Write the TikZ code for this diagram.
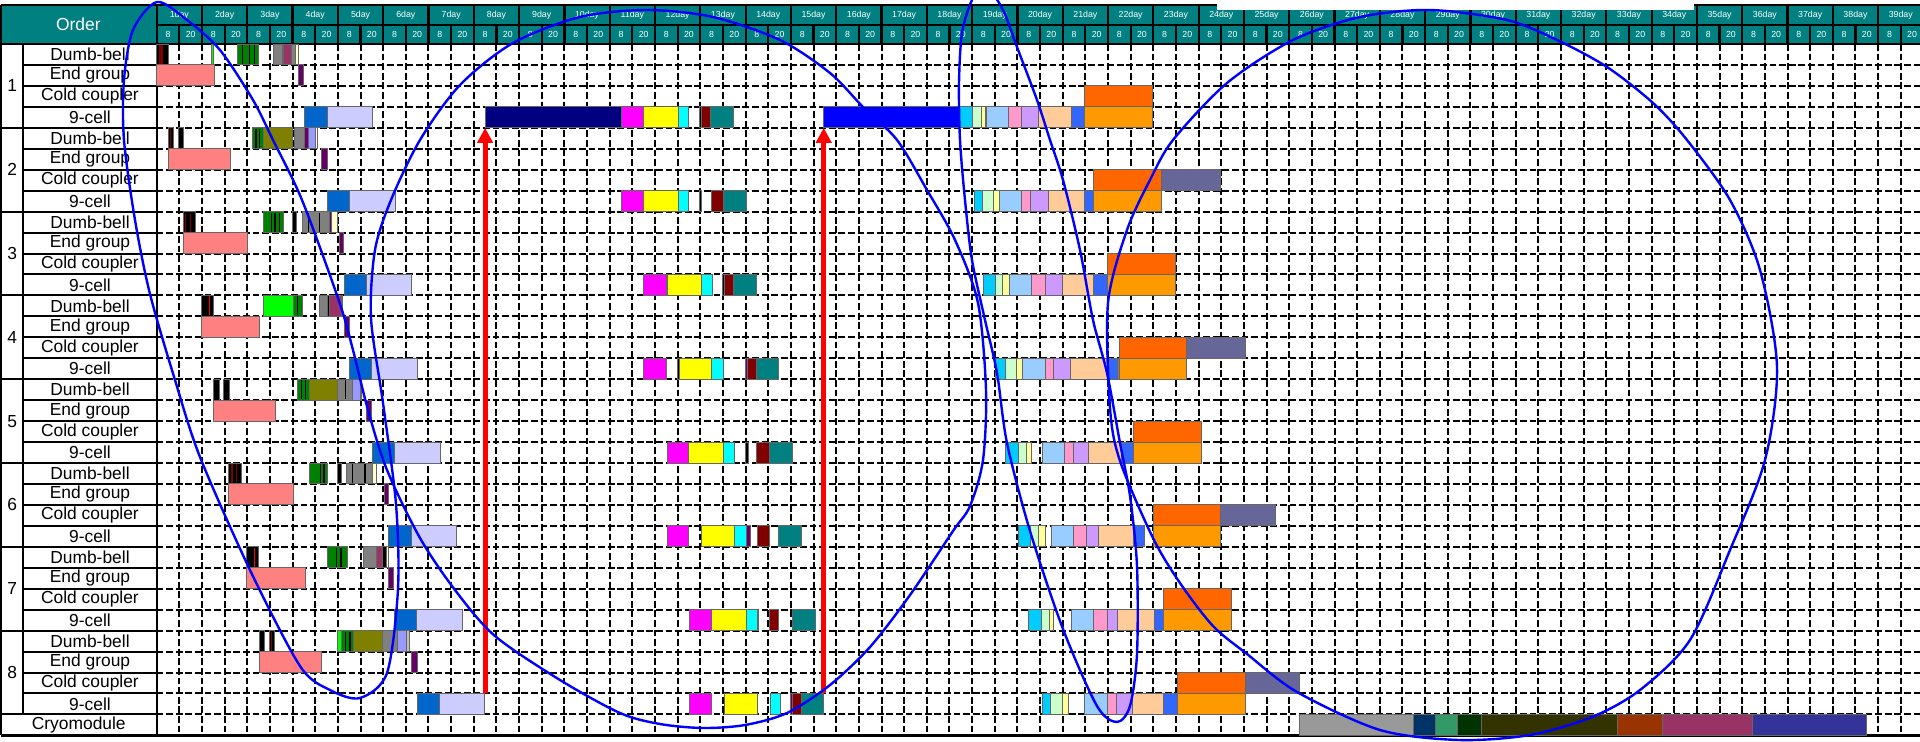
\documentclass[tikz,border=0pt]{standalone}
\usepackage{fontspec}
\setmainfont{Liberation Sans}
\usetikzlibrary{arrows.meta}
\definecolor{hdteal}{HTML}{008080}
\definecolor{dbred}{HTML}{800000}
\definecolor{dbgreen}{HTML}{008000}
\definecolor{dblime}{HTML}{00FF00}
\definecolor{dbolive}{HTML}{808000}
\definecolor{dbgray}{HTML}{808080}
\definecolor{dbplum}{HTML}{993366}
\definecolor{dbperi}{HTML}{9999FF}
\definecolor{dbcream}{HTML}{FFFFCC}
\definecolor{egpink}{HTML}{FF8080}
\definecolor{egplum}{HTML}{660066}
\definecolor{ncblue}{HTML}{0066CC}
\definecolor{nclav}{HTML}{CCCCFF}
\definecolor{ncnavy}{HTML}{000080}
\definecolor{ncmagenta}{HTML}{FF00FF}
\definecolor{ncyellow}{HTML}{FFFF00}
\definecolor{nccyan}{HTML}{00FFFF}
\definecolor{ncteal}{HTML}{008080}
\definecolor{ncpure}{HTML}{0000FF}
\definecolor{ncsky}{HTML}{00CCFF}
\definecolor{ncmint}{HTML}{CCFFCC}
\definecolor{nccream}{HTML}{FFFF99}
\definecolor{ncice}{HTML}{99CCFF}
\definecolor{ncrose}{HTML}{FF99CC}
\definecolor{nclilac}{HTML}{CC99FF}
\definecolor{ncpeach}{HTML}{FFCC99}
\definecolor{ncroyal}{HTML}{3366FF}
\definecolor{ncorange}{HTML}{FF9900}
\definecolor{ccorange}{HTML}{FF6600}
\definecolor{ccslate}{HTML}{666699}
\definecolor{cmgray}{HTML}{999999}
\definecolor{cmnavy}{HTML}{003366}
\definecolor{cmsea}{HTML}{339966}
\definecolor{cmforest}{HTML}{003300}
\definecolor{cmolive}{HTML}{333300}
\definecolor{cmrust}{HTML}{993300}
\definecolor{cmplum}{HTML}{993366}
\definecolor{cmindigo}{HTML}{333399}
\definecolor{linkred}{HTML}{FF0000}
\definecolor{ringblue}{HTML}{0000FF}

% one bar: row, start, end, colour (x in half days, y in rows)
\newcommand{\gtask}[4]{\draw[task, fill=#4] (#2,#1) rectangle (#3,#1+1);}
% thin line inside a bar, no outline
\newcommand{\gstripe}[4]{\fill[#4] (#2,#1+0.05) rectangle (#3,#1+0.95);}

\begin{document}
\begin{tikzpicture}[
  x=11.325pt, y=-10.475pt,
  headline/.style={draw=black, line width=1.1pt},
  headtext/.style={text=white, inner sep=0pt, font=\fontsize{4.4pt}{5pt}\selectfont},
  rowtext/.style={inner sep=0pt, font=\fontsize{8.7pt}{10pt}\selectfont},
  rule/.style={draw=black, line width=1pt},
  gridline/.style={draw=black, line width=1pt, dash pattern=on 3.4pt off 1.4pt},
  task/.style={draw=black!60, line width=0.5pt},
  link/.style={draw=linkred, line width=2.6pt, -{Triangle[length=7.5pt, width=7.5pt]}},
  ring/.style={draw=ringblue, line width=1.2pt},
]
  \useasboundingbox (-6.918,-2.1) rectangle (77.85,33.317);
  \clip (-6.918,-2.1) rectangle (77.85,33.317);
  \fill[white] (-6.918,-2.1) rectangle (77.85,33.317);

  % Header ------------------------------------------------------------------
  \fill[hdteal] (-6.874,-1.862) rectangle (78,0);
  \node[text=white, font=\fontsize{8.7pt}{10pt}\selectfont] (order) at (-3.46,-0.93) {Order};
  \foreach \k in {1,...,39} {
    \node[headtext] (day\k) at ({2*\k-1},-1.384) {\k day};
    \node[headtext] (am\k) at ({2*\k-1.5},-0.453) {8};
    \node[headtext] (pm\k) at ({2*\k-0.5},-0.453) {20};
  }
  \draw[headline] (-6.874,-1.862) -- (78,-1.862);
  \draw[headline] (0,-0.907) -- (78,-0.907);
  \draw[headline] (-6.874,0) -- (78,0);
  \foreach \k in {2,4,...,78} \draw[headline] (\k,-1.862) -- (\k,0);
  \foreach \k in {1,3,...,77} \draw[headline] (\k,-0.907) -- (\k,0);
  \fill[white] (46.81,-2.2) rectangle (67.87,-1.623);

  % Grid --------------------------------------------------------------------
  \foreach \r in {1,...,32} \draw[gridline] (0,\r) -- (78,\r);
  \foreach \k in {1,...,77} \draw[gridline] (\k,0) -- (\k,33);
  \draw[rule] (0,-1.862) -- (0,33);
  \draw[rule] (-6.874,-1.862) -- (-6.874,33);
  \draw[rule] (-5.89,0) -- (-5.89,32);
  \foreach \r in {1,...,31} \draw[rule] (-5.89,\r) -- (0,\r);
  \foreach \r in {4,8,...,32} \draw[rule] (-6.874,\r) -- (0,\r);
  \draw[draw=black, line width=1.6pt] (-6.874,33) -- (78,33);

  % Row labels --------------------------------------------------------------
  \foreach \g in {1,...,8} {
    \node[rowtext] (grp\g) at (-6.38,{4*\g-2}) {\g};
    \node[rowtext] (db\g) at (-2.945,{4*\g-3.5}) {Dumb-bell};
    \node[rowtext] (eg\g) at (-2.945,{4*\g-2.5}) {End group};
    \node[rowtext] (cc\g) at (-2.945,{4*\g-1.5}) {Cold coupler};
    \node[rowtext] (nc\g) at (-2.945,{4*\g-0.5}) {9-cell};
  }
  \node[rowtext] (cryo) at (-3.44,32.5) {Cryomodule};

  % Order 1 -----------------------------------------------------------------
  \gtask{0}{0}{0.51}{black} \gstripe{0}{0.12}{0.3}{dbred}
  \gtask{0}{2.40}{2.53}{dblime}
  \gtask{0}{3.56}{4.49}{dbgreen} \gstripe{0}{3.75}{3.82}{black} \gstripe{0}{4.08}{4.14}{black} \gstripe{0}{4.3}{4.36}{black}
  \gtask{0}{5.15}{5.55}{dbgray} \gtask{0}{5.55}{5.62}{black} \gtask{0}{5.62}{5.95}{dbplum}
  \gtask{0}{5.95}{6.15}{dbgray} \gtask{0}{6.15}{6.25}{dbcream}
  \gtask{1}{0}{2.57}{egpink} \gtask{1}{6.28}{6.5}{egplum}
  \gtask{2}{40.96}{43.97}{ccorange}
  \gtask{3}{6.51}{7.53}{ncblue} \gtask{3}{7.53}{9.53}{nclav}
  \gtask{3}{14.5}{20.51}{ncnavy} \gtask{3}{20.51}{21.49}{ncmagenta} \gtask{3}{21.49}{23.05}{ncyellow}
  \gtask{3}{23.05}{23.49}{nccyan} \gtask{3}{23.96}{24.05}{black} \gtask{3}{24.07}{24.47}{dbred}
  \gtask{3}{24.47}{25.45}{ncteal}
  \gtask{3}{29.45}{35.44}{ncpure} \gtask{3}{35.44}{36.03}{ncsky} \gtask{3}{36.03}{36.4}{ncmint}
  \gtask{3}{36.4}{36.6}{nccream} \gtask{3}{36.62}{37.6}{ncice} \gtask{3}{37.6}{38.19}{ncrose}
  \gtask{3}{38.19}{38.94}{nclilac} \gtask{3}{38.94}{40.37}{ncpeach} \gtask{3}{40.37}{40.96}{ncroyal}
  \gtask{3}{40.96}{43.97}{ncorange}

  % Order 2 -----------------------------------------------------------------
  \gtask{4}{0.51}{0.74}{black} \gstripe{4}{0.58}{0.64}{dbred} \gtask{4}{0.96}{1.18}{black}
  \gtask{4}{4.22}{4.71}{dbgreen} \gstripe{4}{4.35}{4.41}{black} \gstripe{4}{4.52}{4.58}{black}
  \gtask{4}{4.71}{6.0}{dbolive} \gtask{4}{6.1}{6.54}{dbgray} \gtask{4}{6.54}{6.69}{egplum}
  \gtask{4}{6.69}{7.03}{dbperi} \gtask{4}{7.03}{7.1}{dbcream}
  \gtask{5}{0.54}{3.28}{egpink} \gtask{5}{7.28}{7.53}{egplum}
  \gtask{6}{41.35}{44.37}{ccorange} \gtask{6}{44.37}{46.96}{ccslate}
  \gtask{7}{7.54}{8.5}{ncblue} \gtask{7}{8.5}{10.53}{nclav}
  \gtask{7}{20.51}{21.51}{ncmagenta} \gtask{7}{21.51}{23.05}{ncyellow} \gtask{7}{23.05}{23.49}{nccyan}
  \gtask{7}{23.96}{24.04}{black} \gtask{7}{24.48}{25.04}{dbred} \gtask{7}{25.04}{26.05}{ncteal}
  \gtask{7}{36.09}{36.44}{ncsky} \gtask{7}{36.44}{36.95}{ncmint} \gtask{7}{36.95}{37.2}{nccream}
  \gtask{7}{37.2}{38.19}{ncice} \gtask{7}{38.19}{38.6}{ncrose} \gtask{7}{38.6}{39.37}{nclilac}
  \gtask{7}{39.37}{40.96}{ncpeach} \gtask{7}{40.96}{41.35}{ncroyal} \gtask{7}{41.35}{44.37}{ncorange}

  % Order 3 -----------------------------------------------------------------
  \gtask{8}{1.17}{1.73}{black} \gstripe{8}{1.25}{1.3}{dbred} \gstripe{8}{1.45}{1.52}{dbred}
  \gtask{8}{4.7}{5.58}{dbgreen} \gstripe{8}{5.05}{5.1}{black} \gstripe{8}{5.2}{5.26}{black} \gstripe{8}{5.38}{5.44}{black}
  \gtask{8}{5.99}{6.17}{black}
  \gtask{8}{6.43}{7.61}{dbgray} \gstripe{8}{6.68}{6.73}{black} \gstripe{8}{7.18}{7.23}{black}
  \gtask{8}{7.61}{7.71}{egplum} \gtask{8}{7.71}{8.0}{dbcream}
  \gtask{9}{1.17}{4.01}{egpink} \gtask{9}{8.05}{8.25}{egplum}
  \gtask{10}{41.98}{44.97}{ccorange}
  \gtask{11}{8.27}{9.25}{ncblue} \gtask{11}{9.25}{11.26}{nclav}
  \gtask{11}{21.51}{22.5}{ncmagenta} \gtask{11}{22.53}{24.04}{ncyellow} \gtask{11}{24.04}{24.56}{nccyan}
  \gtask{11}{24.97}{25.07}{black} \gtask{11}{25.07}{25.47}{dbred} \gtask{11}{25.47}{26.47}{ncteal}
  \gtask{11}{36.49}{37.04}{ncsky} \gtask{11}{37.04}{37.36}{ncmint} \gtask{11}{37.36}{37.63}{nccream}
  \gtask{11}{37.63}{38.62}{ncice} \gtask{11}{38.62}{39.24}{ncrose} \gtask{11}{39.24}{39.97}{nclilac}
  \gtask{11}{39.97}{41.37}{ncpeach} \gtask{11}{41.37}{41.98}{ncroyal} \gtask{11}{41.98}{44.97}{ncorange}

  % Order 4 -----------------------------------------------------------------
  \gtask{12}{1.98}{2.5}{black} \gstripe{12}{2.3}{2.36}{linkred}
  \gtask{12}{4.73}{6.05}{dblime} \gtask{12}{6.05}{6.43}{dbgreen} \gstripe{12}{6.2}{6.26}{black}
  \gtask{12}{7.17}{7.55}{dbgray} \gtask{12}{7.55}{7.62}{black} \gtask{12}{7.62}{8.15}{dbplum}
  \gtask{12}{8.15}{8.22}{dbcream}
  \gtask{13}{1.98}{4.55}{egpink} \gtask{13}{8.3}{8.52}{egplum}
  \gtask{14}{42.49}{45.46}{ccorange} \gtask{14}{45.46}{48.06}{ccslate}
  \gtask{15}{8.52}{9.5}{ncblue} \gtask{15}{9.5}{11.5}{nclav}
  \gtask{15}{21.51}{22.5}{ncmagenta} \gtask{15}{23.0}{23.06}{black} \gtask{15}{23.06}{24.51}{ncyellow}
  \gtask{15}{24.51}{25.04}{nccyan} \gtask{15}{26.0}{26.07}{egplum} \gtask{15}{26.07}{26.47}{dbred}
  \gtask{15}{26.47}{27.47}{ncteal}
  \gtask{15}{37.04}{37.49}{ncsky} \gtask{15}{37.49}{37.98}{ncmint} \gtask{15}{37.98}{38.22}{nccream}
  \gtask{15}{38.22}{39.24}{ncice} \gtask{15}{39.24}{39.6}{ncrose} \gtask{15}{39.6}{40.35}{nclilac}
  \gtask{15}{40.35}{41.97}{ncpeach} \gtask{15}{41.97}{42.4}{ncroyal} \gtask{15}{42.4}{42.49}{dbgray}
  \gtask{15}{42.49}{45.46}{ncorange}

  % Order 5 -----------------------------------------------------------------
  \gtask{16}{2.5}{2.76}{black} \gtask{16}{2.97}{3.2}{black}
  \gtask{16}{6.2}{6.73}{dbgreen} \gstripe{16}{6.35}{6.41}{black} \gstripe{16}{6.55}{6.6}{black}
  \gtask{16}{6.73}{7.97}{dbolive} \gtask{16}{7.97}{8.66}{dbgray} \gstripe{16}{8.3}{8.35}{black}
  \gtask{16}{8.66}{8.99}{dbperi} \gtask{16}{8.99}{9.06}{dbcream}
  \gtask{17}{2.53}{5.26}{egpink} \gtask{17}{9.25}{9.47}{egplum}
  \gtask{18}{43.13}{46.12}{ccorange}
  \gtask{19}{9.52}{10.5}{ncblue} \gtask{19}{10.5}{12.51}{nclav}
  \gtask{19}{22.53}{23.5}{ncmagenta} \gtask{19}{23.5}{25.04}{ncyellow} \gtask{19}{25.04}{25.51}{nccyan}
  \gtask{19}{26.0}{26.12}{black} \gtask{19}{26.47}{27.06}{dbred} \gtask{19}{27.06}{28.06}{ncteal}
  \gtask{19}{37.49}{38.07}{ncsky} \gtask{19}{38.07}{38.4}{ncmint} \gtask{19}{38.4}{38.62}{nccream}
  \gtask{19}{39.1}{40.06}{ncice} \gtask{19}{40.06}{40.49}{ncrose} \gtask{19}{40.49}{41.12}{nclilac}
  \gtask{19}{41.12}{42.6}{ncpeach} \gtask{19}{42.6}{43.13}{ncroyal} \gtask{19}{43.13}{46.12}{ncorange}

  % Order 6 -----------------------------------------------------------------
  \gtask{20}{3.16}{3.74}{black} \gstripe{20}{3.3}{3.36}{dbred} \gstripe{20}{3.5}{3.56}{dbred}
  \gtask{20}{6.73}{7.56}{dbgreen} \gstripe{20}{7.2}{7.26}{black} \gstripe{20}{7.35}{7.41}{black}
  \gtask{20}{7.97}{8.18}{black}
  \gtask{20}{8.4}{9.52}{dbgray} \gstripe{20}{8.63}{8.68}{black} \gstripe{20}{9.17}{9.22}{black}
  \gtask{20}{9.52}{9.7}{dbcream}
  \gtask{21}{3.16}{6.02}{egpink} \gtask{21}{10.06}{10.25}{egplum}
  \gtask{22}{43.99}{46.96}{ccorange} \gtask{22}{46.96}{49.38}{ccslate}
  \gtask{23}{10.25}{11.26}{ncblue} \gtask{23}{11.26}{13.25}{nclav}
  \gtask{23}{22.53}{23.5}{ncmagenta} \gtask{23}{24.07}{25.51}{ncyellow} \gtask{23}{25.51}{26.03}{nccyan}
  \gtask{23}{26.03}{26.2}{egplum} \gtask{23}{26.51}{27.06}{dbred} \gtask{23}{27.47}{28.46}{ncteal}
  \gtask{23}{38.07}{38.59}{ncsky} \gtask{23}{38.59}{38.95}{ncmint} \gtask{23}{38.95}{39.24}{nccream}
  \gtask{23}{39.5}{40.49}{ncice} \gtask{23}{40.49}{41.07}{ncrose} \gtask{23}{41.07}{41.59}{nclilac}
  \gtask{23}{41.59}{43.13}{ncpeach} \gtask{23}{43.13}{43.59}{ncroyal} \gtask{23}{43.99}{46.96}{ncorange}

  % Order 7 -----------------------------------------------------------------
  \gtask{24}{3.96}{4.48}{black} \gstripe{24}{4.3}{4.36}{linkred}
  \gtask{24}{7.56}{8.44}{dbgreen} \gstripe{24}{7.9}{7.96}{black} \gstripe{24}{8.1}{8.16}{black}
  \gtask{24}{9.15}{9.7}{dbgray} \gtask{24}{9.7}{9.98}{dbplum} \gtask{24}{9.98}{10.15}{black}
  \gtask{24}{10.15}{10.25}{dbcream}
  \gtask{25}{3.96}{6.56}{egpink} \gtask{25}{10.25}{10.46}{egplum}
  \gtask{26}{44.47}{47.47}{ccorange}
  \gtask{27}{10.5}{11.48}{ncblue} \gtask{27}{11.48}{13.51}{nclav}
  \gtask{27}{23.53}{24.51}{ncmagenta} \gtask{27}{24.51}{26.06}{ncyellow} \gtask{27}{26.06}{26.51}{nccyan}
  \gtask{27}{26.51}{26.58}{black} \gtask{27}{27.06}{27.47}{dbred} \gtask{27}{28.06}{29.07}{ncteal}
  \gtask{27}{38.47}{39.06}{ncsky} \gtask{27}{39.06}{39.4}{ncmint} \gtask{27}{39.4}{39.6}{nccream}
  \gtask{27}{40.38}{41.38}{ncice} \gtask{27}{41.38}{41.96}{ncrose} \gtask{27}{41.96}{42.44}{nclilac}
  \gtask{27}{42.44}{44.06}{ncpeach} \gtask{27}{44.06}{44.47}{ncroyal} \gtask{27}{44.47}{47.47}{ncorange}

  % Order 8 -----------------------------------------------------------------
  \gtask{28}{4.52}{4.74}{black} \gtask{28}{4.96}{5.21}{black} \gstripe{28}{5.05}{5.1}{dbred}
  \gtask{28}{7.97}{8.15}{dblime} \gtask{28}{8.15}{8.69}{dbgreen} \gstripe{28}{8.3}{8.36}{black} \gstripe{28}{8.5}{8.56}{black}
  \gtask{28}{8.69}{9.96}{dbolive} \gtask{28}{9.96}{10.65}{dbgray} \gtask{28}{10.65}{11.01}{dbperi}
  \gtask{28}{11.01}{11.15}{dbgray!50}
  \gtask{29}{4.52}{7.27}{egpink} \gtask{29}{11.26}{11.5}{egplum}
  \gtask{30}{45.09}{48.06}{ccorange} \gtask{30}{48.06}{50.44}{ccslate}
  \gtask{31}{11.5}{12.48}{ncblue} \gtask{31}{12.48}{14.46}{nclav}
  \gtask{31}{23.53}{24.51}{ncmagenta} \gtask{31}{25.07}{26.51}{ncyellow} \gtask{31}{27.09}{27.53}{nccyan}
  \gtask{31}{28.0}{28.06}{egplum} \gtask{31}{28.06}{28.46}{dbred} \gtask{31}{28.46}{29.46}{ncteal}
  \gtask{31}{39.1}{39.47}{ncsky} \gtask{31}{39.47}{40.0}{ncmint} \gtask{31}{40.0}{40.24}{nccream}
  \gtask{31}{40.97}{41.97}{ncice} \gtask{31}{41.97}{42.37}{ncrose} \gtask{31}{42.37}{43.07}{nclilac}
  \gtask{31}{43.07}{44.47}{ncpeach} \gtask{31}{44.47}{45.09}{ncroyal} \gtask{31}{45.09}{48.06}{ncorange}

  % Cryomodule --------------------------------------------------------------
  \gtask{32}{50.44}{55.47}{cmgray} \gtask{32}{55.47}{56.45}{cmnavy} \gtask{32}{56.45}{57.45}{cmsea}
  \gtask{32}{57.45}{58.47}{cmforest} \gtask{32}{58.47}{64.48}{cmolive} \gtask{32}{64.48}{66.49}{cmrust}
  \gtask{32}{66.49}{70.46}{cmplum} \gtask{32}{70.46}{75.5}{cmindigo}

  % Hand-offs from order 8 back to order 1 ---------------------------------
  \coordinate (lastlav) at (14.5,31);
  \coordinate (firstnavy) at (14.5,4);
  \coordinate (lastteal) at (29.45,31);
  \coordinate (firstblue) at (29.45,4);
  \draw[link] (lastlav) -- (firstnavy);
  \draw[link] (lastteal) -- (firstblue);

  % Hand-drawn rings (pixel coordinates) ------------------------------------
  \begin{scope}[x=0.5pt, y=-0.5pt, shift={(-156.7,-44)}]
    \draw[ring] plot[smooth cycle] coordinates {(157,2) (187,20) (220,50) (253,100) (273,140)
      (302,200) (339,301) (353,350) (368,410) (387,470) (420,538) (455,590) (495,636) (560,680)
      (620,713) (660,724) (703,728) (745,725) (787,713) (830,685) (870,647) (910,595) (953,531)
      (970,506) (983,460) (986,390) (978,303) (955,240) (927,190) (897,140) (863,107) (830,73)
      (780,40) (713,17) (647,10) (580,17) (513,43) (460,85) (420,140) (391,200) (375,250)
      (371,318) (383,403) (396,504) (398,589) (387,673) (360,698) (330,690) (300,666) (250,570)
      (200,457) (175,380) (150,294) (135,220) (124,140) (124,80) (133,30)};
    \draw[ring] plot[smooth cycle] coordinates {(985,-15) (1003,10) (1017,47) (1037,100) (1050,140)
      (1063,180) (1080,250) (1093,320) (1107,373) (1120,443) (1130,496) (1137,566) (1137,654)
      (1130,706) (1117,722) (1097,706) (1063,629) (1030,531) (1007,443) (997,373) (985,320)
      (972,260) (965,200) (960,140) (959,83) (962,33) (972,0)};
    \draw[ring] plot[smooth cycle] coordinates {(1430,10) (1507,20) (1557,40) (1607,67) (1653,103)
      (1687,140) (1730,200) (1760,270) (1777,367) (1765,460) (1730,550) (1690,640) (1640,690)
      (1592,717) (1530,735) (1459,740) (1380,730) (1297,692) (1247,654) (1213,626) (1180,583)
      (1153,538) (1120,461) (1110,408) (1108,303) (1127,230) (1150,180) (1173,140) (1227,83)
      (1293,40) (1360,17)};
  \end{scope}
\end{tikzpicture}
\end{document}
